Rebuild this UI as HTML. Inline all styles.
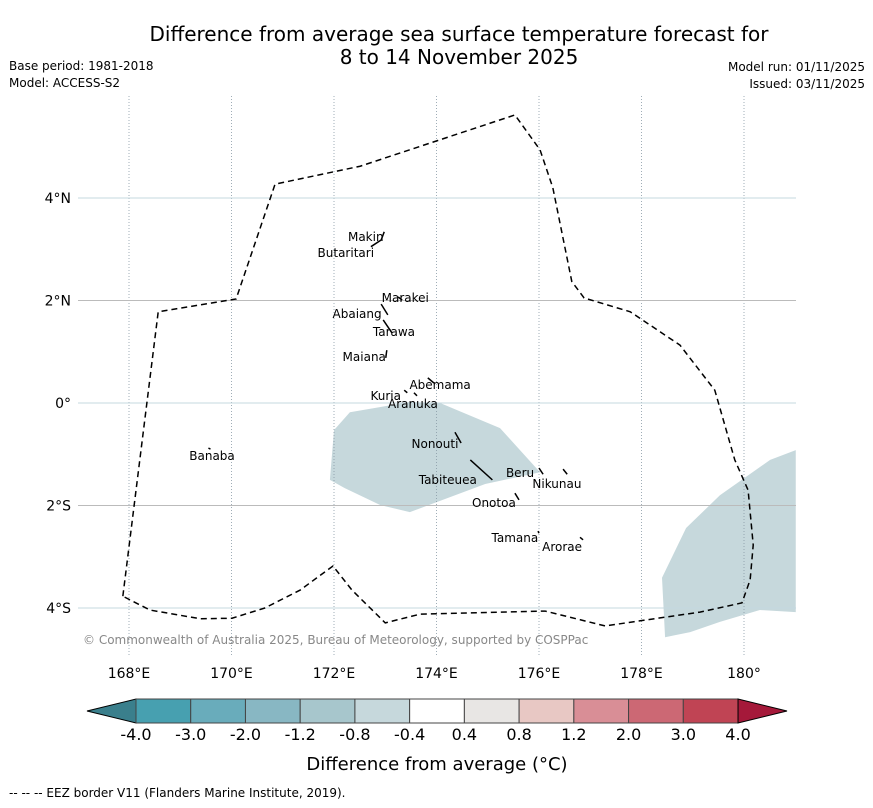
<!DOCTYPE html>
<html><head><meta charset="utf-8"><style>
body{margin:0;background:#fff;font-family:"DejaVu Sans","Liberation Sans",sans-serif;}
svg text{font-family:"DejaVu Sans","Liberation Sans",sans-serif;}
</style></head><body>
<svg id="c" width="873" height="804" xmlns="http://www.w3.org/2000/svg">
<rect width="873" height="804" fill="#fff"/>
<text x="459" y="41" font-size="20" text-anchor="middle">Difference from average sea surface temperature forecast for</text>
<text x="459" y="64" font-size="20" text-anchor="middle">8 to 14 November 2025</text>
<text x="9" y="70" font-size="12">Base period: 1981-2018</text>
<text x="9" y="87" font-size="12">Model: ACCESS-S2</text>
<text x="865" y="71" font-size="12" text-anchor="end">Model run: 01/11/2025</text>
<text x="865" y="88" font-size="12" text-anchor="end">Issued: 03/11/2025</text>
<g id="map"></g>
<g id="cbar"></g>
<text x="437" y="770" font-size="18" text-anchor="middle">Difference from average (°C)</text>
<text x="9" y="797" font-size="12">--  --  -- EEZ border V11 (Flanders Marine Institute, 2019).</text>
</svg>
<script>
const lonTicks=[168,170,172,174,176,178,180];
const lonLabels=["168°E","170°E","172°E","174°E","176°E","178°E","180°"];
const latTicks=[4,2,0,-2,-4];
const latLabels=["4°N","2°N","0°","2°S","4°S"];
const eezLon=[167.88,168.57,170.09,170.85,172.51,175.53,176.02,176.27,176.64,176.88,177.78,178.75,179.43,179.82,180.08,180.18,180.12,179.96,179.14,177.29,176.12,173.68,173.00,172.35,171.98,171.34,170.65,170.01,169.39,168.41,167.88];
const eezLat=[-3.77,1.78,2.03,4.27,4.62,5.62,4.94,4.20,2.37,2.05,1.78,1.13,0.25,-1.11,-1.70,-2.77,-3.45,-3.90,-4.08,-4.35,-4.06,-4.12,-4.29,-3.65,-3.18,-3.65,-4.00,-4.20,-4.21,-4.04,-3.77];
const anomALon=[172.00,172.31,173.48,174.07,175.24,176.02,174.95,173.48,172.90,172.21,171.92];
const anomALat=[-0.53,-0.18,0.02,0,-0.49,-1.35,-1.58,-2.13,-1.99,-1.66,-1.50];
const anomBLon=[178.40,178.87,179.53,180.51,181.01,181.01,180.31,179.53,178.95,178.46];
const anomBLat=[-3.41,-2.44,-1.80,-1.11,-0.92,-4.08,-4.04,-4.27,-4.47,-4.57];
const islandNames=["Makin","Butaritari","Marakei","Abaiang","Tarawa","Maiana","Abemama","Kuria","Aranuka","Nonouti","Tabiteuea","Beru","Nikunau","Onotoa","Tamana","Arorae","Banaba"];
const islandLon=[172.62,172.23,173.39,172.45,173.17,172.59,174.07,173.01,173.54,173.97,174.22,175.63,176.35,175.12,175.53,176.45,169.62];
const islandLat=[3.24,2.93,2.05,1.74,1.39,0.90,0.35,0.14,-0.02,-0.80,-1.50,-1.37,-1.58,-1.95,-2.63,-2.81,-1.03];
const coastLon1=[172.98,172.72,173.25,172.92,172.96,173.03,173.83,173.37,173.56,174.36,174.66,176.00,176.47,175.53,175.98,176.80,169.55];
const coastLat1=[3.34,3.05,2.07,1.93,1.62,1.03,0.49,0.25,0.20,-0.57,-1.11,-1.27,-1.29,-1.76,-2.50,-2.62,-0.88];
const coastLon2=[172.92,172.92,173.33,173.05,173.13,173.01,173.95,173.43,173.62,174.48,175.09,176.08,176.55,175.61,176.00,176.86,169.59];
const coastLat2=[3.18,3.18,2.01,1.72,1.37,0.88,0.39,0.20,0.14,-0.78,-1.50,-1.39,-1.39,-1.89,-2.54,-2.67,-0.90];
const cbLevels=["-4.0","-3.0","-2.0","-1.2","-0.8","-0.4","0.4","0.8","1.2","2.0","3.0","4.0"];
const cbColors=["#47a0b0","#69acbb","#88b7c3","#a7c6cc","#c6d8dc","#ffffff","#e8e6e4","#e8c8c4","#d98e96","#cc6874","#c04454"];
const NS="http://www.w3.org/2000/svg";
const X=lon=>129+(lon-168)*51.25;
const Y=lat=>403-lat*51.25;
function mk(tag,attrs,parent){const e=document.createElementNS(NS,tag);for(const k in attrs)e.setAttribute(k,attrs[k]);parent.appendChild(e);return e;}
const map=document.getElementById('map');
function poly(lons,lats,name,fill){
  const p=mk('polygon',{points:lons.map((l,i)=>X(l)+','+Y(lats[i])).join(' '),fill:fill},map);
  
  
}
poly(anomALon,anomALat,'anomaly-region-central','#c6d8dc');
poly(anomBLon,anomBLat,'anomaly-region-southeast','#c6d8dc');
lonTicks.forEach((t,i)=>{
  const l=mk('line',{x1:X(t),x2:X(t),y1:96,y2:656,stroke:'#8899a6','stroke-width':0.8,'stroke-dasharray':'1,2'},map);
  
  
  const tx=mk('text',{x:X(t),y:678,'font-size':14,'text-anchor':'middle'},map);
  tx.textContent=lonLabels[i];
  
  
});
latTicks.forEach((t,i)=>{
  const l=mk('line',{x1:78,x2:796,y1:Y(t),y2:Y(t),stroke:(t%4===0)?'#c4d8df':'#bbbbbb','stroke-width':0.9},map);
  
  
  const tx=mk('text',{x:71,y:Y(t)+5,'font-size':14,'text-anchor':'end'},map);
  tx.textContent=latLabels[i];
  
  
});
const eez=mk('polyline',{points:eezLon.map((l,i)=>X(l)+','+Y(eezLat[i])).join(' '),fill:'none',stroke:'#000','stroke-width':1.5,'stroke-dasharray':'6,4'},map);


coastLon1.forEach((l,i)=>{
  const c=mk('line',{x1:X(l),y1:Y(coastLat1[i]),x2:X(coastLon2[i]),y2:Y(coastLat2[i]),stroke:'#000','stroke-width':1.5},map);
  
  
});
islandNames.forEach((n,i)=>{
  const tx=mk('text',{x:X(islandLon[i]),y:Y(islandLat[i])+4,'font-size':12,'text-anchor':'middle'},map);
  tx.textContent=n;
  
  
});
const cr=mk('text',{x:83,y:644,'font-size':12,fill:'#888'},map);
cr.textContent='© Commonwealth of Australia 2025, Bureau of Meteorology, supported by COSPPac';


const cb=document.getElementById('cbar');
const cx0=136,cw=54.73,cy=699,ch=24;
const lt=mk('polygon',{points:`87,${cy+ch/2} ${cx0},${cy} ${cx0},${cy+ch}`,fill:'#3a7f8c',stroke:'#000','stroke-width':1},cb);


cbColors.forEach((c,i)=>{
  const r=mk('rect',{x:cx0+i*cw,y:cy,width:cw,height:ch,fill:c,stroke:'#444','stroke-width':1},cb);
  
  
});
const xe=cx0+cbColors.length*cw;
const rt=mk('polygon',{points:`${xe},${cy} ${xe},${cy+ch} 787,${cy+ch/2}`,fill:'#a5193a',stroke:'#000','stroke-width':1},cb);


cbLevels.forEach((v,i)=>{
  const tx=mk('text',{x:cx0+i*cw,y:740,'font-size':16,'text-anchor':'middle'},cb);
  tx.textContent=v;
  
  
});
</script>
</body></html>
